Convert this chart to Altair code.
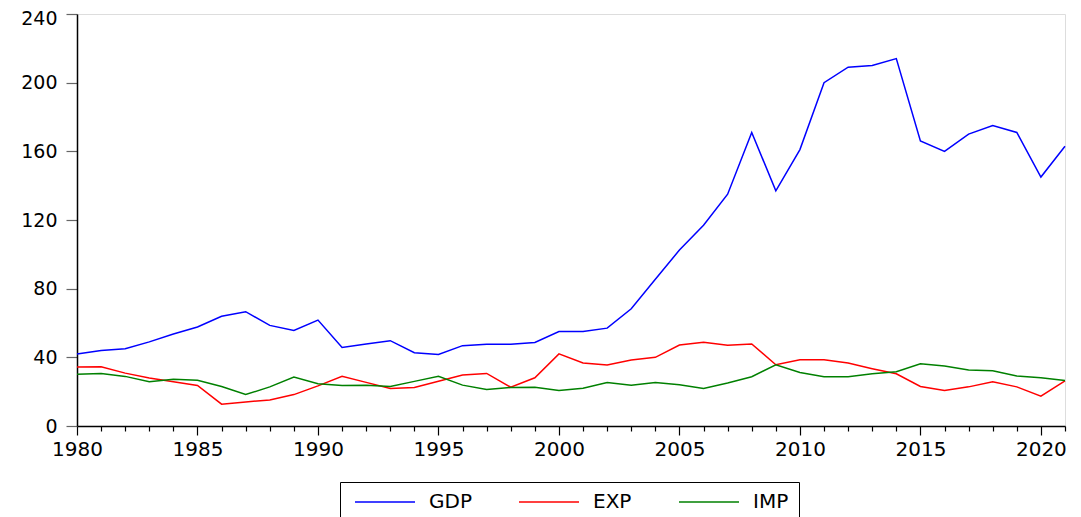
import altair as alt
import pandas as pd

years = list(range(1980, 2022))

gdp = [42, 44, 45, 49, 53.6, 57.7, 63.9, 66.6, 58.6, 55.7, 61.7,
       45.8, 47.8, 49.7, 42.7, 41.7, 46.8, 47.6, 47.6, 48.7, 55,
       55, 57, 68.3, 85.5, 102.5, 117, 135, 171, 137, 161,
       200, 209, 210, 214, 166, 160, 170, 175, 171, 145, 163]

exp_ = [34.3, 34.5, 30.8, 27.9, 25.8, 23.6, 12.7, 14.0, 15.2, 18.3, 23.4,
        28.9, 25.4, 21.9, 22.4, 26.1, 29.7, 30.6, 22.6, 28.1, 42.0,
        36.7, 35.5, 38.4, 40.0, 47.2, 48.8, 47.0, 47.8, 35.7, 38.6,
        38.6, 36.7, 33.4, 30.4, 23.0, 20.7, 22.8, 25.8, 22.8, 17.4, 26.3]

imp = [30.2, 30.6, 28.9, 25.8, 27.3, 26.7, 23.0, 18.3, 22.8, 28.5, 24.6,
       23.6, 23.8, 23.0, 26.0, 28.9, 23.8, 21.3, 22.4, 22.6, 20.7,
       22.0, 25.4, 23.8, 25.4, 24.0, 21.9, 25.0, 28.7, 35.7, 31.2,
       28.7, 28.7, 30.4, 31.6, 36.3, 34.9, 32.6, 32.2, 29.1, 28.1, 26.5]

series_names = ["GDP", "EXP", "IMP"]
series_colors = ["#0000FF", "#FF0000", "#008000"]
y_ticks = [0, 40, 80, 120, 160, 200, 240]

rows = []
for name, vals in zip(series_names, [gdp, exp_, imp]):
    for yr, v in zip(years, vals):
        rows.append({"year": yr, "value": v, "series": name})
df = pd.DataFrame(rows)

FONT = "DejaVu Sans"

x_axis = alt.Axis(
    values=years,
    labelExpr="datum.value % 5 === 0 ? '' + datum.value : ''",
    tickSize={"condition": {"test": "datum.value % 5 === 0", "value": 9}, "value": 5},
    tickColor="#000000",
    tickWidth=1.2,
    labelPadding=4,
    labelFlush=False,
    labelOverlap=False,
    labelFont=FONT,
    labelFontSize=20,
    labelColor="#000000",
    domainColor="#000000",
    domainWidth=1.5,
    grid=False,
    title=None,
)

y_axis = alt.Axis(
    values=y_ticks,
    tickSize=11,
    tickColor="#666666",
    tickWidth=1.2,
    labelPadding=9,
    labelOffset={"condition": {"test": "datum.value === 240", "value": 4}, "value": 0},
    labelFont=FONT,
    labelFontSize=19,
    labelColor="#000000",
    domainColor="#000000",
    domainWidth=1.5,
    grid=False,
    title=None,
)

legend = alt.Legend(
    orient="none",
    legendX=263,
    legendY=468,
    direction="horizontal",
    title=None,
    strokeColor="#000000",
    padding=10,
    symbolType="M-1,0H11",
    symbolSize=100,
    symbolStrokeWidth=1.3,
    labelOffset=59,
    columnPadding=42,
    labelFont=FONT,
    labelFontSize=20,
    labelColor="#000000",
)

chart = alt.Chart(df).mark_line(strokeWidth=1.5).encode(
    x=alt.X("year:Q", scale=alt.Scale(domain=[1980, 2021], nice=False, zero=False), axis=x_axis),
    y=alt.Y("value:Q", scale=alt.Scale(domain=[0, 240], nice=False), axis=y_axis),
    color=alt.Color("series:N",
                    scale=alt.Scale(domain=series_names, range=series_colors),
                    sort=series_names,
                    legend=legend),
).properties(
    width=988,
    height=412,
    autosize=alt.AutoSizeParams(type="none"),
    padding={"left": 69, "top": 6, "right": 8, "bottom": 91},
).configure_view(
    stroke="#000000",
    strokeWidth=1.5,
).configure(background="#FFFFFF")

chart.save("out.html", embed_options={"renderer": "svg", "actions": False})
